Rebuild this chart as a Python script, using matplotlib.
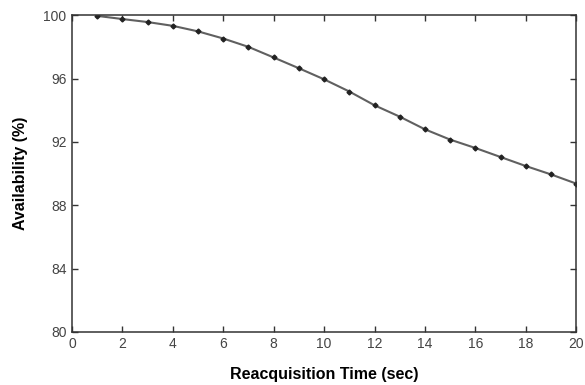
import matplotlib
matplotlib.use("Agg")
import matplotlib.pyplot as plt

plt.rcParams['font.family'] = ['Liberation Sans', 'DejaVu Sans']

reacq_time = [1, 2, 3, 4, 5, 6, 7, 8, 9, 10, 11, 12, 13, 14, 15, 16, 17, 18, 19, 20]
availability = [99.97, 99.77, 99.58, 99.34, 98.99, 98.54, 98.01, 97.34, 96.66, 95.96,
                95.19, 94.32, 93.60, 92.80, 92.15, 91.62, 91.05, 90.48, 89.95, 89.37]
xticks = [0, 2, 4, 6, 8, 10, 12, 14, 16, 18, 20]
yticks = [80, 84, 88, 92, 96, 100]

fig = plt.figure(figsize=(5.85, 3.85), dpi=100)
ax = fig.add_axes([0.123, 0.138, 0.862, 0.822])
ax.plot(reacq_time, availability, color='#606060', lw=1.5, marker='D', ms=2.5,
        mfc='#222222', mec='#222222')
ax.set_xlim(0, 20)
ax.set_ylim(80, 100)
ax.set_xticks(xticks)
ax.set_yticks(yticks)
ax.tick_params(direction='in', top=True, right=True, length=4, width=1,
               labelsize=10, labelcolor='#444444', color='#333333', pad=4)
for s in ax.spines.values():
    s.set_color('#333333')
    s.set_linewidth(1.1)
ax.set_xlabel('Reacquisition Time (sec)', fontsize=11.5, fontweight='bold', labelpad=11)
ax.set_ylabel('Availability (%)', fontsize=11.5, fontweight='bold', labelpad=11)
fig.savefig('out.png', dpi=100)
